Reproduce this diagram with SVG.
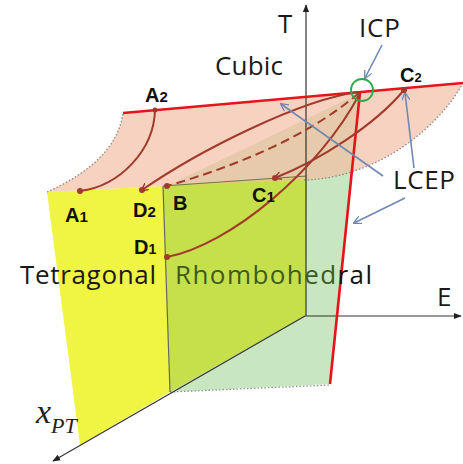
<svg xmlns="http://www.w3.org/2000/svg" width="463" height="464" viewBox="0 0 463 464">
<defs>
<style>
.lbl{font-family:"Open Sans","Liberation Sans",Arial,sans-serif;font-size:26px;fill:#1a1a1a}
.pt{font-family:"Liberation Sans",Arial,sans-serif;font-size:20px;font-weight:bold;fill:#111}
.sub{font-size:15px}
.curve{fill:none;stroke:#a23a2c;stroke-width:2}
.dot{fill:#a23a2c}
.red{fill:none;stroke:#e8121b;stroke-width:2.6}
.blue{fill:none;stroke:#6f88b4;stroke-width:1.6;marker-end:url(#ba)}
.axis{fill:none;stroke:#333;stroke-width:1.2}
.dotted{fill:none;stroke:#8a8a8a;stroke-width:1.3;stroke-dasharray:1.5 2}
</style>
<marker id="ba" viewBox="0 0 10 10" refX="9" refY="5" markerWidth="8" markerHeight="8" orient="auto" markerUnits="userSpaceOnUse"><path d="M0,0 L10,5 L0,10" fill="none" stroke="#6f88b4" stroke-width="1.6"/></marker>
<marker id="ax" viewBox="0 0 10 10" refX="9" refY="5" markerWidth="8" markerHeight="8" orient="auto" markerUnits="userSpaceOnUse"><path d="M0,1 L10,5 L0,9 z" fill="#222"/></marker>
<marker id="br" viewBox="0 0 10 10" refX="8" refY="5" markerWidth="8" markerHeight="8" orient="auto" markerUnits="userSpaceOnUse"><path d="M0,0 L9,5 L0,10" fill="none" stroke="#a23a2c" stroke-width="1.8"/></marker>
</defs>
<rect width="463" height="464" fill="#ffffff"/>

<g id="planes">
<polygon id="lightgreen" points="167,186 360,93 330,384 170,392" fill="#c8e6bf"/>
<polygon id="tetragonal-plane" points="47,192 163,186 170,392 80,445" fill="#f0f443"/>
<polygon id="rhombo-plane" points="163,186 307,176 305,316 170,392" fill="#c6e04c"/>
<path id="cubic-surface" d="M47,192 C85,175 118,150 123,113 L463,83 C440,125 380,178 304,180 L163,186 Z" fill="#f4bda2" fill-opacity="0.68"/>
<path class="dotted" d="M47,192 C85,175 118,150 123,113"/>
<path class="dotted" d="M463,83 C440,125 380,178 304,180"/>
<path class="dotted" d="M170,392 L330,385"/>
<path d="M163,186 L307,176" fill="none" stroke="#6b7a3a" stroke-width="1"/>
<path d="M163,186 L170,392" fill="none" stroke="#666" stroke-width="1.2"/>
</g>

<g id="axes">
<path class="axis" d="M306,316 L306,5" marker-end="url(#ax)"/>
<path class="axis" d="M305,316 L461,316" marker-end="url(#ax)"/>
<path class="axis" d="M305,316 L53,461" marker-end="url(#ax)"/>
</g>

<g id="connectors">
<path class="red" d="M123,113 L463,83"/>
<path class="red" d="M360,92 L330,384"/>
<path class="curve" d="M155,110 C154,150 120,186 80,191"/>
<path class="curve" d="M358,92 C300,100 200,150 142,190" marker-end="url(#br)"/>
<path class="curve" d="M359,93 C310,135 240,165 167,186" stroke-dasharray="9 5"/>
<path class="curve" d="M360,93 C320,170 230,245 167,257"/>
<path class="curve" d="M404,90 C375,125 320,160 275,178" marker-end="url(#br)"/>
<path class="blue" d="M382,45 L365,78"/>
<path class="blue" d="M383,176 L281,104"/>
<path class="blue" d="M414,168 L405,93"/>
<path class="blue" d="M405,198 L354,223"/>
</g>

<g id="ICP"><circle cx="362" cy="90" r="11" fill="none" stroke="#2ea84a" stroke-width="1.8"/><text class="lbl" x="359" y="37" font-size="25" textLength="41">ICP</text></g>
<g id="A2"><circle class="dot" cx="155" cy="110" r="2.5"/><text class="pt" x="145" y="102">A<tspan class="sub">2</tspan></text></g>
<g id="A1"><circle class="dot" cx="80" cy="191" r="3"/><text class="pt" x="65" y="222">A<tspan class="sub">1</tspan></text></g>
<g id="D2"><circle class="dot" cx="142" cy="190" r="3"/><text class="pt" x="133" y="217">D<tspan class="sub">2</tspan></text></g>
<g id="B"><circle class="dot" cx="167" cy="186" r="3"/><text class="pt" x="173" y="210">B</text></g>
<g id="C1"><circle class="dot" cx="275" cy="178" r="3"/><text class="pt" x="252" y="202">C<tspan class="sub">1</tspan></text></g>
<g id="D1"><circle class="dot" cx="167" cy="257" r="3"/><text class="pt" x="134" y="254" font-size="19">D<tspan font-size="14">1</tspan></text></g>
<g id="C2"><circle class="dot" cx="404" cy="90" r="3"/><text class="pt" x="400" y="82" font-size="17">C<tspan font-size="13">2</tspan></text></g>

<g id="labels">
<text class="lbl" x="278" y="33">T</text>
<text class="lbl" x="215" y="75" textLength="68">Cubic</text>
<text class="lbl" x="393" y="189" textLength="62">LCEP</text>
<text class="lbl" x="437" y="306" font-size="24">E</text>
<text class="lbl" x="20" y="284" font-size="25" textLength="136">Tetragonal</text>
<text class="lbl" x="175" y="284" font-size="25" textLength="197"><tspan fill="#3d5b1e">Rhombohed</tspan><tspan fill="#141414">ral</tspan></text>
<text x="36" y="423" font-family="'Liberation Serif','Times New Roman',serif" font-style="italic" font-size="34" fill="#222">x<tspan font-size="22" dy="10">PT</tspan></text>
</g>
</svg>
